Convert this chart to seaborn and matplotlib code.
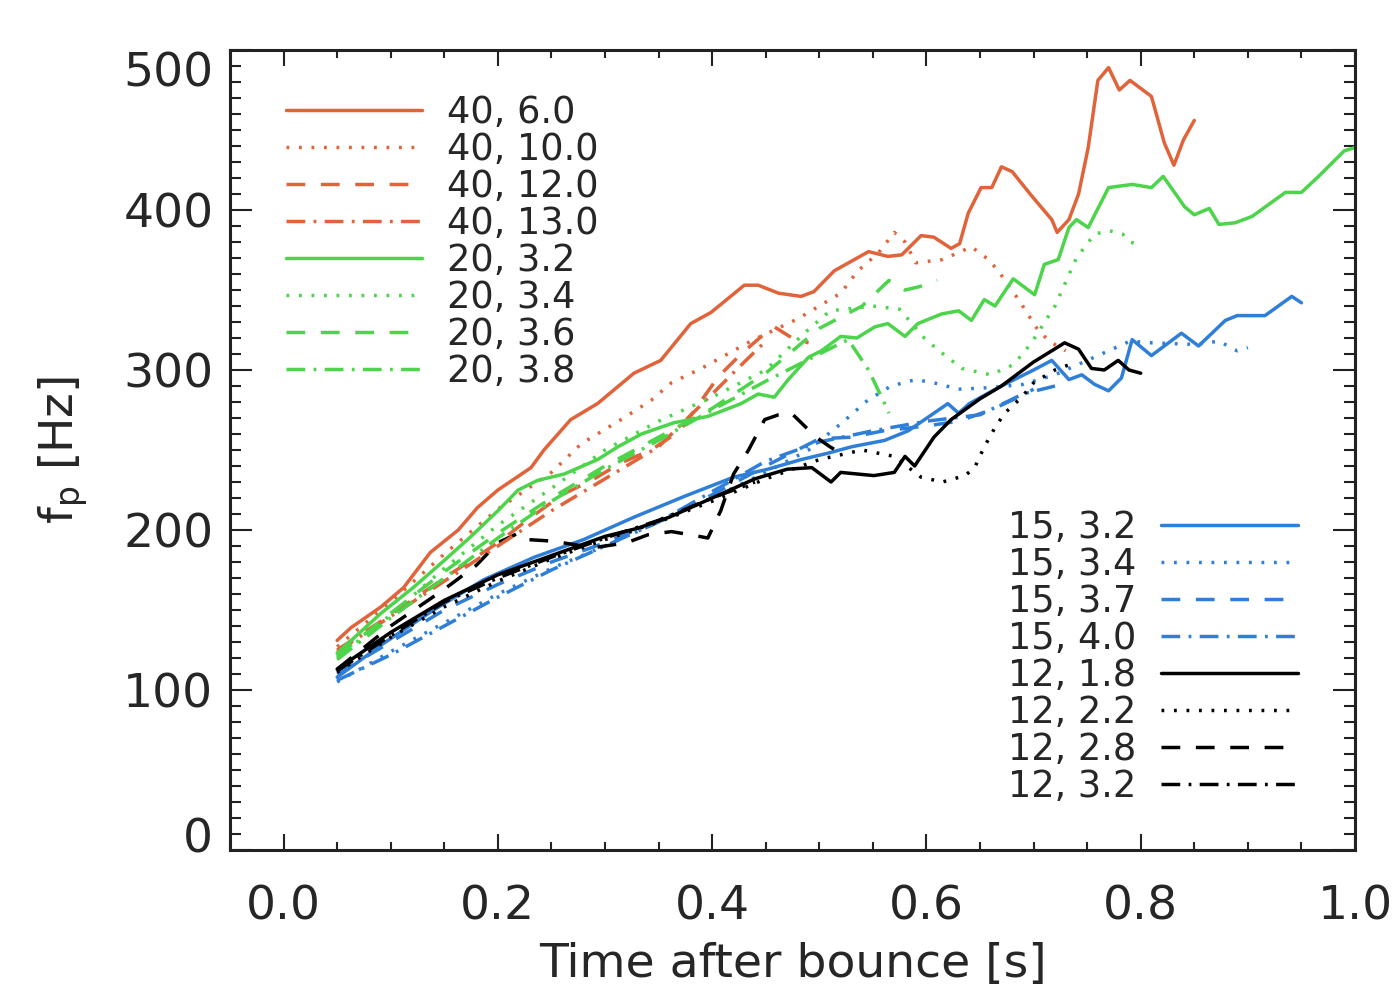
import numpy as np
import pandas as pd
import seaborn as sns
import matplotlib.pyplot as plt
import matplotlib.transforms as mtrans
from matplotlib.ticker import MultipleLocator, FormatStrFormatter

# models: (mass, rotation) -> time after bounce [s], peak frequency [Hz]
t_40_60 = [0.05, 0.063, 0.091, 0.112, 0.137, 0.163, 0.181, 0.2, 0.231, 0.243, 0.268, 0.293, 0.327, 0.352,
           0.38, 0.399, 0.43, 0.443, 0.462, 0.483, 0.495, 0.514, 0.546, 0.564, 0.577, 0.595, 0.607, 0.623,
           0.631, 0.639, 0.651, 0.661, 0.67, 0.68, 0.698, 0.717, 0.722, 0.733, 0.742, 0.751, 0.76, 0.77,
           0.78, 0.79, 0.81, 0.822, 0.831, 0.84, 0.85]
f_40_60 = [131, 139, 152, 164, 186, 200, 214, 225, 239, 250, 269, 279, 298, 306,
           329, 336, 353, 353, 348, 346, 349, 362, 374, 371, 372, 384, 383, 376,
           379, 398, 414, 414, 427, 424, 409, 394, 386, 394, 410, 439, 481, 489,
           475, 481, 471, 442, 428, 444, 456]

t_40_100 = [0.05, 0.1, 0.15, 0.2, 0.25, 0.278, 0.315, 0.343, 0.362, 0.39, 0.436, 0.48, 0.52, 0.536, 0.555,
            0.57, 0.58, 0.59, 0.615, 0.642, 0.658, 0.667, 0.686, 0.705, 0.717, 0.73]
f_40_100 = [127, 155, 185, 213, 236, 254, 269, 281, 292, 301, 318, 332, 348, 362, 373,
            386, 380, 367, 369, 377, 369, 362, 344, 324, 317, 312]

t_40_120 = [0.05, 0.1, 0.15, 0.2, 0.231, 0.26, 0.29, 0.315, 0.343, 0.37, 0.39, 0.406, 0.427, 0.446, 0.458,
            0.477, 0.49]
f_40_120 = [125, 147, 170, 192, 208, 222, 232, 242, 250, 262, 281, 296, 310, 321, 327, 319, 317]

t_40_130 = [0.05, 0.1, 0.15, 0.2, 0.25, 0.3, 0.35, 0.4, 0.43, 0.45]
f_40_130 = [124, 146, 168, 190, 212, 232, 252, 285, 305, 318]

t_20_32 = [0.05, 0.091, 0.121, 0.15, 0.175, 0.2, 0.219, 0.237, 0.262, 0.293, 0.312, 0.334, 0.364, 0.396,
           0.427, 0.443, 0.458, 0.471, 0.49, 0.502, 0.52, 0.535, 0.552, 0.564, 0.58, 0.592, 0.614, 0.63,
           0.642, 0.654, 0.664, 0.681, 0.701, 0.71, 0.723, 0.733, 0.74, 0.751, 0.77, 0.792, 0.81, 0.821,
           0.841, 0.85, 0.864, 0.873, 0.888, 0.904, 0.935, 0.95, 0.966, 0.99, 1.0]
f_20_32 = [123, 148, 164, 181, 196, 212, 225, 231, 235, 244, 252, 260, 267, 271,
           279, 285, 283, 294, 308, 312, 321, 320, 327, 329, 321, 329, 335, 337,
           331, 344, 340, 357, 347, 366, 369, 389, 394, 389, 414, 416, 414, 421,
           402, 397, 401, 391, 392, 396, 411, 411, 421, 437, 439]

t_20_34 = [0.05, 0.1, 0.15, 0.2, 0.25, 0.3, 0.35, 0.4, 0.45, 0.486, 0.51, 0.55, 0.575, 0.598, 0.61, 0.633,
           0.66, 0.68, 0.69, 0.7, 0.72, 0.74, 0.757, 0.771, 0.783, 0.79, 0.8]
f_20_34 = [120, 147, 176, 203, 226, 250, 268, 283, 300, 323, 337, 340, 338, 320, 313, 301,
           297, 303, 310, 319, 340, 370, 385, 387, 385, 380, 378]

t_20_36 = [0.05, 0.1, 0.15, 0.2, 0.25, 0.3, 0.35, 0.4, 0.45, 0.5, 0.54, 0.565, 0.58, 0.593, 0.61]
f_20_36 = [121, 148, 174, 198, 220, 240, 258, 276, 298, 326, 340, 356, 350, 352, 356]

t_20_38 = [0.05, 0.1, 0.15, 0.2, 0.25, 0.3, 0.35, 0.4, 0.45, 0.5, 0.527, 0.546, 0.561, 0.565]
f_20_38 = [119, 145, 170, 195, 218, 238, 256, 275, 293, 310, 319, 300, 279, 273]

t_15_32 = [0.05, 0.093, 0.14, 0.187, 0.234, 0.28, 0.327, 0.374, 0.42, 0.452, 0.483, 0.508, 0.53, 0.561,
           0.583, 0.607, 0.62, 0.63, 0.64, 0.67, 0.7, 0.717, 0.733, 0.745, 0.757, 0.77, 0.782, 0.792, 0.81,
           0.838, 0.854, 0.879, 0.89, 0.916, 0.941, 0.95]
f_15_32 = [108, 129, 150, 169, 183, 194, 208, 221, 233, 238, 244, 248, 252, 256,
           262, 273, 279, 273, 279, 290, 300, 306, 294, 297, 291, 287, 295, 319, 309,
           323, 315, 331, 334, 334, 346, 342]

t_15_34 = [0.05, 0.1, 0.15, 0.2, 0.25, 0.3, 0.35, 0.4, 0.45, 0.49, 0.523, 0.545, 0.567, 0.59, 0.607, 0.63,
           0.66, 0.69, 0.72, 0.75, 0.79, 0.81, 0.85, 0.873, 0.89, 0.9]
f_15_34 = [105, 124, 142, 160, 176, 190, 205, 220, 236, 250, 268, 281, 290, 294, 292, 288,
           289, 291, 297, 306, 318, 317, 316, 318, 312, 314]

t_15_37 = [0.05, 0.1, 0.15, 0.2, 0.25, 0.3, 0.35, 0.4, 0.45, 0.5, 0.53, 0.56, 0.6, 0.63, 0.66, 0.686, 0.7]
f_15_37 = [110, 130, 150, 166, 180, 192, 206, 222, 240, 257, 258, 262, 265, 268, 275, 283, 288]

t_15_40 = [0.05, 0.1, 0.15, 0.2, 0.25, 0.3, 0.35, 0.4, 0.45, 0.5, 0.55, 0.6, 0.65, 0.69, 0.72]
f_15_40 = [106, 122, 140, 158, 175, 190, 205, 224, 243, 255, 262, 268, 272, 285, 290]

t_12_18 = [0.05, 0.1, 0.15, 0.2, 0.25, 0.3, 0.33, 0.36, 0.4, 0.44, 0.47, 0.493, 0.511, 0.52, 0.551, 0.57,
           0.58, 0.589, 0.607, 0.623, 0.65, 0.67, 0.7, 0.717, 0.729, 0.742, 0.754, 0.766, 0.779, 0.789, 0.8]
f_12_18 = [113, 136, 156, 172, 184, 196, 201, 208, 220, 232, 238, 239, 230, 236, 234, 236,
           246, 240, 258, 269, 282, 290, 305, 312, 317, 313, 301, 300, 306, 300, 298]

t_12_22 = [0.05, 0.1, 0.15, 0.2, 0.25, 0.3, 0.35, 0.4, 0.45, 0.5, 0.54, 0.57, 0.595, 0.615, 0.636, 0.645,
           0.654, 0.664, 0.673, 0.689, 0.7, 0.72, 0.74]
f_12_22 = [111, 133, 152, 168, 182, 194, 205, 218, 232, 244, 250, 246, 233, 230, 234, 239,
           252, 264, 273, 283, 292, 300, 305]

t_12_28 = [0.05, 0.1, 0.15, 0.18, 0.2, 0.219, 0.228, 0.252, 0.27, 0.29, 0.32, 0.34, 0.362, 0.38, 0.396,
           0.408, 0.42, 0.434, 0.449, 0.462, 0.474, 0.497, 0.51, 0.52]
f_12_28 = [113, 140, 163, 178, 192, 198, 194, 193, 191, 189, 192, 197, 199, 197, 195,
           212, 235, 250, 269, 272, 273, 258, 252, 248]

t_12_32 = [0.05, 0.1, 0.15, 0.2, 0.25, 0.3, 0.35, 0.4, 0.44]
f_12_32 = [112, 134, 155, 170, 183, 195, 206, 220, 230]

labels_top = ['40, 6.0', '40, 10.0', '40, 12.0', '40, 13.0', '20, 3.2', '20, 3.4', '20, 3.6', '20, 3.8']
labels_bottom = ['15, 3.2', '15, 3.4', '15, 3.7', '15, 4.0', '12, 1.8', '12, 2.2', '12, 2.8', '12, 3.2']

series_top = [(t_40_60, f_40_60), (t_40_100, f_40_100), (t_40_120, f_40_120), (t_40_130, f_40_130),
              (t_20_32, f_20_32), (t_20_34, f_20_34), (t_20_36, f_20_36), (t_20_38, f_20_38)]
series_bottom = [(t_15_32, f_15_32), (t_15_34, f_15_34), (t_15_37, f_15_37), (t_15_40, f_15_40),
                 (t_12_18, f_12_18), (t_12_22, f_12_22), (t_12_28, f_12_28), (t_12_32, f_12_32)]

c_orange, c_green, c_blue, c_black = '#e0633a', '#4cd44a', '#2f7fd8', '#000000'
styles = ['-', (0, (0.8, 2.8)), (0, (5.4, 4.5)), (0, (5.4, 2.4, 0.8, 2.4))]

sns.set_style('ticks')
plt.rcParams['font.family'] = ['DejaVu Sans']

fig = plt.figure(figsize=(13.97, 9.88), dpi=100)
ax = fig.add_axes([230 / 1397, 138 / 988, 1125 / 1397, 800 / 988])

def draw(series, labels, colors):
    hs = []
    for i, ((t, f), lab) in enumerate(zip(series, labels)):
        df = pd.DataFrame({'t': t, 'f': f})
        sns.lineplot(data=df, x='t', y='f', ax=ax, sort=False, estimator=None, color=colors[i // 4],
                     linestyle=styles[i % 4], linewidth=2.5, label=lab)
        hs.append(ax.get_lines()[-1])
    return hs

# draw the low ones first so the upper groups sit on top
h_bot = draw(series_bottom, labels_bottom, [c_blue, c_black])
h_top = draw(series_top, labels_top, [c_orange, c_green])

ax.set_xlim(-0.05, 1.0)
ax.set_ylim(0, 500)
ax.xaxis.set_major_locator(MultipleLocator(0.2))
ax.xaxis.set_minor_locator(MultipleLocator(0.05))
ax.xaxis.set_major_formatter(FormatStrFormatter('%.1f'))
ax.yaxis.set_major_locator(MultipleLocator(100))
ax.yaxis.set_minor_locator(MultipleLocator(10))

ax.tick_params(axis='both', which='both', direction='in', top=True, right=True, width=1.5, color='#222222')
ax.tick_params(axis='x', which='major', length=11.5, labelsize=34, pad=25)
ax.tick_params(axis='x', which='minor', length=5.8)
ax.tick_params(axis='y', which='major', length=16, labelsize=34, pad=12)
ax.tick_params(axis='y', which='minor', length=8)
for s in ax.spines.values():
    s.set_linewidth(2.2)
    s.set_color('#222222')

ax.set_xlabel('Time after bounce [s]', fontsize=34, labelpad=9)
ax.set_ylabel(r'f$_\mathregular{p}$ [Hz]', fontsize=34, labelpad=24)

leg_kw = dict(frameon=False, fontsize=26.5, handlelength=3.7, handletextpad=0.68, labelspacing=0.0,
              borderpad=0, borderaxespad=0)
leg1 = ax.legend(handles=h_top, labels=labels_top, loc='upper left', bbox_to_anchor=(0.05, 0.945), **leg_kw)
ax.add_artist(leg1)
ax.legend(handles=h_bot, labels=labels_bottom, loc='lower right', bbox_to_anchor=(0.949, 0.056),
          markerfirst=False, **leg_kw)

# the end labels of the y axis sit a little inside the frame in the original
fig.canvas.draw()
for tick in ax.yaxis.get_major_ticks():
    txt = tick.label1.get_text()
    if txt in ('500', '0'):
        dy = -19 if txt == '500' else 15
        tick.label1.set_transform(tick.label1.get_transform() +
                                  mtrans.ScaledTranslation(0, dy / 100, fig.dpi_scale_trans))

fig.savefig('out.png', dpi=100)
